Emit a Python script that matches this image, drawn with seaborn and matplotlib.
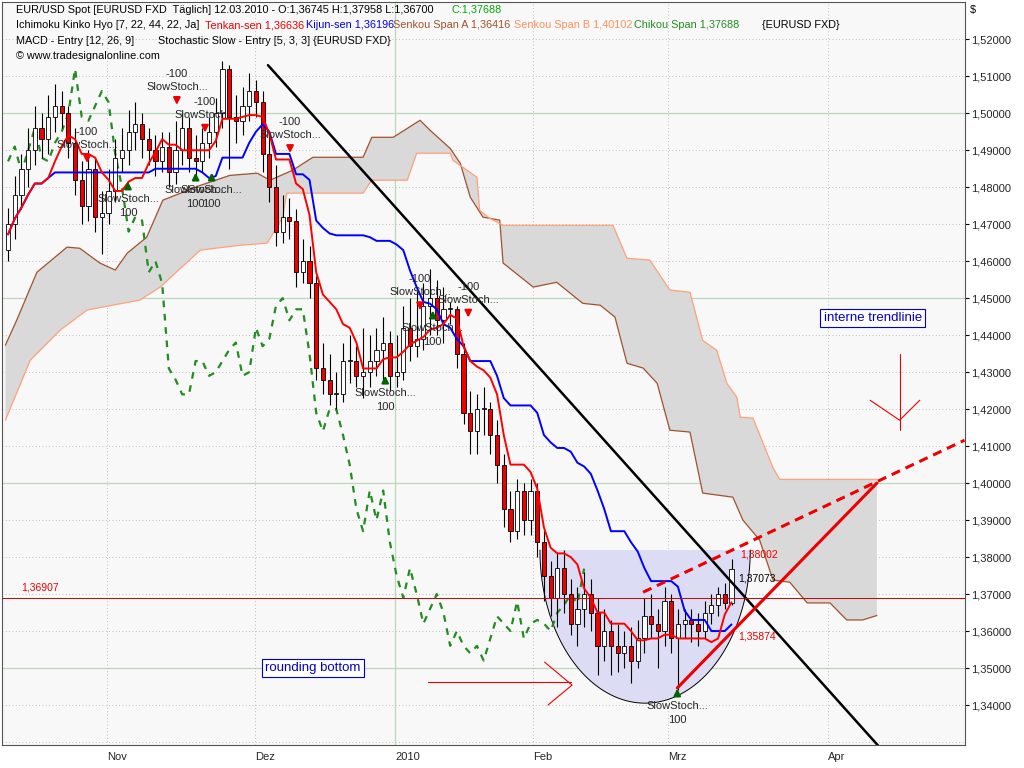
import numpy as np
import pandas as pd
import matplotlib
matplotlib.use("Agg")
import matplotlib.pyplot as plt
import seaborn as sns
from matplotlib.patches import Polygon

# daily EUR/USD bars
opens = [1.4630, 1.4700, 1.4780, 1.4850, 1.4900, 1.4960, 1.4930, 1.4990, 1.5020, 1.5000,
         1.4920, 1.4820, 1.4750, 1.4850, 1.4720, 1.4730, 1.4790, 1.4880, 1.4900, 1.4950,
         1.4970, 1.4930, 1.4900, 1.4870, 1.4910, 1.4840, 1.4900, 1.4960, 1.4880, 1.4870,
         1.4920, 1.4950, 1.5000, 1.5120, 1.4990, 1.4980, 1.5020, 1.5060, 1.5030, 1.4890,
         1.4800, 1.4680, 1.4720, 1.4710, 1.4570, 1.4600, 1.4540, 1.4310, 1.4280, 1.4240,
         1.4240, 1.4330, 1.4330, 1.4290, 1.4300, 1.4330, 1.4360, 1.4380, 1.4290, 1.4300,
         1.4420, 1.4370, 1.4390, 1.4480, 1.4500, 1.4440, 1.4470, 1.4470, 1.4350, 1.4190,
         1.4140, 1.4200, 1.4200, 1.4130, 1.4050, 1.3930, 1.3870, 1.3980, 1.3900, 1.3980,
         1.3840, 1.3750, 1.3690, 1.3770, 1.3700, 1.3620, 1.3660, 1.3700, 1.3650, 1.3560,
         1.3600, 1.3560, 1.3540, 1.3560, 1.3520, 1.3580, 1.3640, 1.3620, 1.3600, 1.3680,
         1.3580, 1.3620, 1.3630, 1.3620, 1.3600, 1.3650, 1.3670, 1.3700, 1.36745]
highs = [1.4745, 1.4830, 1.4890, 1.4960, 1.5020, 1.5000, 1.5050, 1.5080, 1.5060, 1.5020,
         1.4960, 1.4870, 1.4900, 1.4880, 1.4790, 1.4850, 1.4930, 1.4960, 1.5010, 1.5030,
         1.5000, 1.4960, 1.4940, 1.4950, 1.4950, 1.4980, 1.5000, 1.4990, 1.4940, 1.4960,
         1.4990, 1.5040, 1.5140, 1.5130, 1.5050, 1.5070, 1.5110, 1.5090, 1.5060, 1.4950,
         1.4860, 1.4780, 1.4770, 1.4740, 1.4660, 1.4640, 1.4560, 1.4380, 1.4350, 1.4300,
         1.4380, 1.4400, 1.4370, 1.4420, 1.4400, 1.4420, 1.4450, 1.4410, 1.4400, 1.4480,
         1.4500, 1.4520, 1.4540, 1.4580, 1.4550, 1.4530, 1.4490, 1.4480, 1.4380, 1.4250,
         1.4240, 1.4260, 1.4220, 1.4170, 1.4080, 1.3980, 1.4010, 1.4000, 1.4010, 1.4000,
         1.3870, 1.3790, 1.3810, 1.3820, 1.3740, 1.3720, 1.3760, 1.3740, 1.3690, 1.3660,
         1.3630, 1.3620, 1.3600, 1.3610, 1.3630, 1.3690, 1.3700, 1.3660, 1.3720, 1.3700,
         1.3660, 1.3660, 1.3660, 1.3650, 1.3680, 1.3700, 1.3720, 1.3730, 1.37958]
lows = [1.4600, 1.4660, 1.4740, 1.4800, 1.4860, 1.4880, 1.4890, 1.4950, 1.4960, 1.4880,
        1.4780, 1.4700, 1.4710, 1.4680, 1.4620, 1.4700, 1.4760, 1.4840, 1.4860, 1.4900,
        1.4880, 1.4860, 1.4830, 1.4840, 1.4800, 1.4810, 1.4860, 1.4840, 1.4830, 1.4840,
        1.4880, 1.4910, 1.4960, 1.4850, 1.4920, 1.4940, 1.4980, 1.4990, 1.4840, 1.4760,
        1.4640, 1.4650, 1.4660, 1.4530, 1.4540, 1.4500, 1.4280, 1.4240, 1.4210, 1.4200,
        1.4220, 1.4270, 1.4260, 1.4230, 1.4260, 1.4290, 1.4270, 1.4250, 1.4260, 1.4280,
        1.4330, 1.4340, 1.4360, 1.4400, 1.4400, 1.4380, 1.4430, 1.4310, 1.4160, 1.4080,
        1.4080, 1.4130, 1.4080, 1.4000, 1.3880, 1.3840, 1.3850, 1.3860, 1.3860, 1.3800,
        1.3680, 1.3640, 1.3610, 1.3650, 1.3590, 1.3560, 1.3610, 1.3600, 1.3480, 1.3520,
        1.3480, 1.3490, 1.3500, 1.3460, 1.3500, 1.3540, 1.3580, 1.3500, 1.3560, 1.3540,
        1.3440, 1.3580, 1.3570, 1.3560, 1.3580, 1.3620, 1.3640, 1.3660, 1.36700]
closes = [1.4700, 1.4780, 1.4850, 1.4900, 1.4960, 1.4930, 1.4990, 1.5020, 1.5000, 1.4920,
          1.4820, 1.4750, 1.4850, 1.4720, 1.4730, 1.4790, 1.4880, 1.4900, 1.4950, 1.4970,
          1.4930, 1.4900, 1.4870, 1.4910, 1.4840, 1.4900, 1.4960, 1.4880, 1.4870, 1.4920,
          1.4950, 1.5000, 1.5120, 1.4990, 1.4980, 1.5020, 1.5060, 1.5030, 1.4890, 1.4800,
          1.4680, 1.4720, 1.4710, 1.4570, 1.4600, 1.4540, 1.4310, 1.4280, 1.4240, 1.4240,
          1.4330, 1.4330, 1.4290, 1.4300, 1.4330, 1.4360, 1.4380, 1.4290, 1.4300, 1.4420,
          1.4370, 1.4390, 1.4480, 1.4500, 1.4440, 1.4470, 1.4470, 1.4350, 1.4190, 1.4140,
          1.4200, 1.4200, 1.4130, 1.4050, 1.3930, 1.3870, 1.3980, 1.3900, 1.3980, 1.3840,
          1.3750, 1.3690, 1.3770, 1.3700, 1.3620, 1.3660, 1.3700, 1.3650, 1.3560, 1.3600,
          1.3560, 1.3540, 1.3560, 1.3520, 1.3580, 1.3640, 1.3620, 1.3600, 1.3680, 1.3580,
          1.3620, 1.3630, 1.3620, 1.3600, 1.3650, 1.3670, 1.3700, 1.36745, 1.37688]

# Senkou Span A / B (bar position, price), including the 22 bars ahead
span_a_x = [-0.4, 1.3, 4.3, 8.8, 10.7, 13.7, 16.0, 17.8, 20.7, 23.1, 28.7, 33.1, 37.2, 39.1,
            42.5, 45.5, 53.0, 54.3, 57.5, 61.5, 63.0, 66.0, 67.5, 69.0, 70.9, 73.4, 73.9,
            78.4, 81.9, 85.8, 88.4, 90.6, 92.4, 94.8, 96.9, 98.8, 101.8, 103.7, 108.2, 109.7,
            112.2, 114.2, 116.7, 119.3, 122.7, 125.2, 127.6, 129.7]
span_a_y = [1.4373, 1.4441, 1.4570, 1.4638, 1.4635, 1.4595, 1.4576, 1.4622, 1.4665, 1.4765,
            1.4805, 1.4832, 1.4838, 1.4819, 1.4846, 1.4881, 1.4881, 1.4935, 1.4935, 1.4981,
            1.4954, 1.4905, 1.4865, 1.4773, 1.4719, 1.4711, 1.4595, 1.4530, 1.4543, 1.4486,
            1.4481, 1.4449, 1.4324, 1.4311, 1.4270, 1.4143, 1.4138, 1.3973, 1.3962, 1.3900,
            1.3846, 1.3738, 1.3732, 1.3676, 1.3676, 1.3630, 1.3630, 1.3642]
span_b_x = [-0.4, 3.3, 7.8, 11.8, 19.7, 22.7, 28.7, 34.6, 38.7, 41.0, 41.6, 53.0, 54.3, 59.6,
            61.0, 66.0, 66.4, 70.0, 70.4, 71.9, 73.9, 90.3, 92.4, 95.8, 98.8, 101.8, 103.7,
            105.8, 107.3, 108.8, 109.3, 111.2, 114.2, 115.2, 129.7]
span_b_y = [1.4170, 1.4332, 1.4414, 1.4468, 1.4495, 1.4530, 1.4630, 1.4643, 1.4649, 1.4719,
            1.4784, 1.4784, 1.4819, 1.4819, 1.4892, 1.4892, 1.4873, 1.4827, 1.4738, 1.4716,
            1.4697, 1.4697, 1.4608, 1.4603, 1.4522, 1.4516, 1.4386, 1.4359, 1.4270, 1.4232,
            1.4178, 1.4176, 1.4041, 1.4010, 1.4010]

month_pos = [14.8, 36.9, 57.8, 78.4, 98.5, 122.4]
month_labels = ["Nov", "Dez", "2010", "Feb", "Mrz", "Apr"]

# SlowStoch signals: (bar position, price)
signals_down = [(11.8, 1.4878), (25.2, 1.5035), (29.4, 1.4960), (42.1, 1.4905),
                (61.5, 1.4480), (68.7, 1.4460)]
signals_up = [(17.9, 1.4803), (28.0, 1.4827), (30.4, 1.4827), (56.3, 1.4278),
              (63.4, 1.4454), (99.9, 1.3432)]

df = pd.DataFrame({"o": opens, "h": highs, "l": lows, "c": closes})
n = len(df)
idx = np.arange(n)

tenkan = (df.h.rolling(7, min_periods=1).max() + df.l.rolling(7, min_periods=1).min()) / 2
kijun = (df.h.rolling(22, min_periods=1).max() + df.l.rolling(22, min_periods=1).min()) / 2

sns.set_style("white")
plt.rcParams['font.family'] = ['Liberation Sans', 'DejaVu Sans']
fig = plt.figure(figsize=(10.24, 7.68), dpi=100)
ax = fig.add_axes([0.002, 0.03, 0.940, 0.967])
ax.set_facecolor("#f8f8f8")

# grid
for p in np.arange(1.33, 1.531, 0.01):
    if round(p * 100) % 5 == 0:
        ax.axhline(p, color="#b9d7b9", lw=0.9, zorder=0)
    else:
        ax.axhline(p, color="#aaaaaa", lw=0.6, ls=(0, (1, 3)), zorder=0)
for m, lab in zip(month_pos, month_labels):
    if lab == "2010":
        ax.axvline(m, color="#b9d7b9", lw=0.9, zorder=0)
    else:
        ax.axvline(m, color="#aaaaaa", lw=0.6, ls=(0, (1, 3)), zorder=0)

# cloud
cloud = np.vstack([np.column_stack([span_a_x, span_a_y]),
                   np.column_stack([span_b_x, span_b_y])[::-1]])
ax.add_patch(Polygon(cloud, closed=True, facecolor="#d9d9d9", edgecolor="none", zorder=1))
ax.plot(span_a_x, span_a_y, color="#a0522d", lw=0.9, zorder=2)
ax.plot(span_b_x, span_b_y, color="#ffa07a", lw=0.9, zorder=2)

# chikou
ax.plot(idx[:n - 22], df.c.values[22:], color="#228b22", lw=1.6, ls=(0, (3, 3)), zorder=3)

# rounding bottom half-ellipse
t = np.linspace(np.pi, 2 * np.pi, 80)
ell = np.column_stack([95.1 + 15.7 * np.cos(t), 1.3819 + 0.0414 * np.sin(t)])
ax.add_patch(Polygon(ell, closed=True, facecolor="#dcdcf4", edgecolor="none", zorder=2))
ax.plot(ell[:, 0], ell[:, 1], color="black", lw=0.7, zorder=2)

# candles
for i, r in df.iterrows():
    ax.vlines(i, r.l, r.h, color="black", lw=0.8, zorder=4)
    lo, hi = min(r.o, r.c), max(r.o, r.c)
    col = "#ee0000" if r.c < r.o else "white"
    ax.bar(i, max(hi - lo, 0.0003), bottom=lo, width=0.62, color=col,
           edgecolor="black", lw=0.6, zorder=5)

sns.lineplot(x=idx, y=kijun.values, color="#0000ff", lw=1.4, ax=ax, zorder=6)
sns.lineplot(x=idx, y=tenkan.values, color="#ff0000", lw=1.4, ax=ax, zorder=6)

# drawn trendlines
ax.plot([38.8, 129.9], [1.513, 1.329], color="black", lw=1.8, zorder=7)
ax.plot([99.9, 129.7], [1.3446, 1.400], color="#ee0000", lw=2.2, zorder=7)
ax.plot([94.8, 142.8], [1.3705, 1.4116], color="#ee0000", lw=2.2, ls=(0, (3, 2)), zorder=7)
ax.axhline(1.36907, color="#cc0000", lw=0.7, zorder=7)
ax.text(2, 1.3705, "1,36907", color="#ee0000", fontsize=7.5, va="bottom")
ax.text(109.3, 1.3808, "1,38002", color="#ee0000", fontsize=7.5, va="center", zorder=8)
ax.text(109.0, 1.3743, "1,37073", color="black", fontsize=7.5, va="center", zorder=8)
ax.text(109.0, 1.3584, "1,35874", color="#ee0000", fontsize=7.5, va="center", zorder=8)

# red arrows
ax.plot([133.1, 133.1], [1.4348, 1.4143], color="#ee0000", lw=0.8)
ax.plot([128.7, 133.1, 136.1], [1.4224, 1.4170, 1.4224], color="#ee0000", lw=0.8)
ax.plot([62.7, 84.0], [1.3462, 1.3462], color="#ee0000", lw=0.8)
ax.plot([80.1, 84.2, 80.6], [1.3516, 1.3454, 1.3400], color="#ee0000", lw=0.8)

box = dict(boxstyle="square,pad=0.25", fc="white", ec="#0000cc", lw=0.8)
ax.text(129.1, 1.4446, "interne trendlinie", color="#0000cc", fontsize=9.5, ha="center",
        va="center", bbox=box, zorder=8)
ax.text(45.5, 1.3500, "rounding bottom", color="#0000cc", fontsize=9.5, ha="center",
        va="center", bbox=box, zorder=8)

for x, p in signals_down:
    ax.annotate("", xy=(x, p - 0.002), xytext=(x, p + 0.0015),
                arrowprops=dict(arrowstyle="-|>", color="#ee0000", lw=1.5), zorder=8)
    ax.text(x, p + 0.0022, "SlowStoch...", fontsize=8, ha="center", va="bottom", zorder=8)
    ax.text(x, p + 0.0058, "-100", fontsize=8, ha="center", va="bottom", zorder=8)
for x, p in signals_up:
    ax.annotate("", xy=(x, p + 0.002), xytext=(x, p - 0.0015),
                arrowprops=dict(arrowstyle="-|>", color="#006400", lw=1.5), zorder=8)
    ax.text(x, p - 0.0022, "SlowStoch...", fontsize=8, ha="center", va="top", zorder=8)
    ax.text(x, p - 0.0058, "100", fontsize=8, ha="center", va="top", zorder=8)

ax.set_xlim(-0.9, 142.8)
ax.set_ylim(1.3292, 1.5300)
ax.yaxis.tick_right()
yt = np.round(np.arange(1.34, 1.521, 0.01), 2)
ax.set_yticks(yt)
ax.set_yticklabels([f"{v:.5f}".replace(".", ",") for v in yt], fontsize=8)
ax.set_xticks(month_pos)
ax.set_xticklabels(month_labels, fontsize=8, ha="left")
ax.tick_params(axis="both", length=3, pad=2, color="black")
for s in ax.spines.values():
    s.set_color("#555555")
    s.set_linewidth(0.8)

# header texts
def hdr(x, y, s, c="black"):
    fig.text(x / 1024, 1 - y / 768, s, color=c, fontsize=7.8, va="center", zorder=10)

hdr(16, 10, "EUR/USD Spot [EURUSD FXD  Täglich] 12.03.2010 - O:1,36745 H:1,37958 L:1,36700")
hdr(451, 10, "C:1,37688", "#00aa00")
hdr(16, 25, "Ichimoku Kinko Hyo [7, 22, 44, 22, Ja]")
hdr(205, 25, "Tenkan-sen 1,36636", "#ee0000")
hdr(306, 25, "Kijun-sen 1,36196", "#0000ee")
hdr(393, 25, "Senkou Span A 1,36416", "#a0522d")
hdr(514, 25, "Senkou Span B 1,40102", "#ff9060")
hdr(634, 25, "Chikou Span 1,37688", "#228b22")
hdr(762, 25, "{EURUSD FXD}")
hdr(16, 41, "MACD - Entry [12, 26, 9]")
hdr(158, 41, "Stochastic Slow - Entry [5, 3, 3] {EURUSD FXD}")
hdr(16, 56, "© www.tradesignalonline.com")
hdr(970, 10, "$")

fig.savefig("out.png", dpi=100)
